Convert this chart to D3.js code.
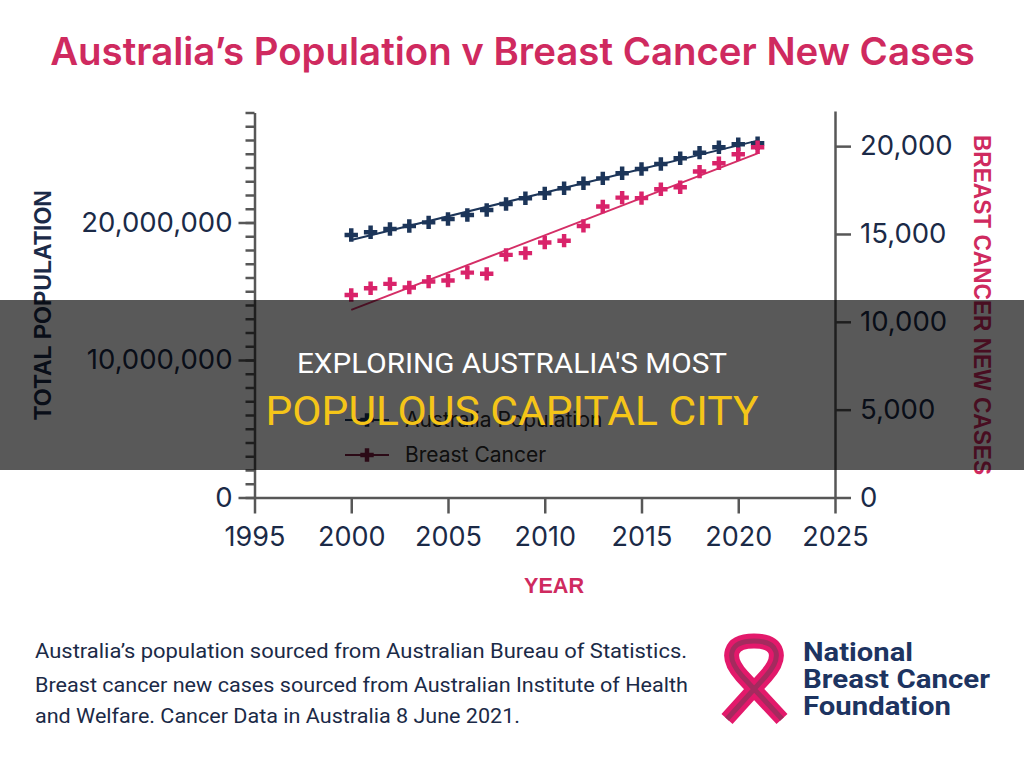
<!DOCTYPE html>
<html>
<head>
<meta charset="utf-8">
<script src="https://cdn.jsdelivr.net/npm/d3@7"></script>
<style>
  body { margin: 0; background: #fff; }
  svg { display: block; }
</style>
</head>
<body>
<div id="chart"></div>
<script>
// data
const years = [2000, 2001, 2002, 2003, 2004, 2005, 2006, 2007, 2008, 2009, 2010,
  2011, 2012, 2013, 2014, 2015, 2016, 2017, 2018, 2019, 2020, 2021];
const population = [19090000, 19290000, 19530000, 19750000, 20010000, 20250000,
  20550000, 20910000, 21350000, 21760000, 22120000, 22490000, 22850000, 23210000,
  23580000, 23890000, 24250000, 24670000, 25080000, 25470000, 25690000, 25760000];
const cancerCases = [11530, 11910, 12160, 11950, 12290, 12350, 12800, 12730, 13810,
  13910, 14510, 14620, 15460, 16560, 17070, 17040, 17550, 17660, 18550, 19030,
  19540, 19940];

const yearTicks = [1995, 2000, 2005, 2010, 2015, 2020, 2025];
const popMajorTicks = [0, 10000000, 20000000];
const popMinorTicks = d3.range(0, 28000001, 1000000);
const caseTicks = [0, 5000, 10000, 15000, 20000];

const legendItems = ['Australia Population', 'Breast Cancer'];
const footerLines = [
  'Australia\u2019s population sourced from Australian Bureau of Statistics.',
  'Breast cancer new cases sourced from Australian Institute of Health',
  'and Welfare. Cancer Data in Australia 8 June 2021.',
];
const logoLines = ['National', 'Breast Cancer', 'Foundation'];

const NAVY = '#1c3559';
const PINK = '#d9236a';
const CRIMSON = '#cf2a5f';
const AXIS = '#575757';
const LABEL = '#1b2a47';

const svg = d3.select('#chart').append('svg')
  .attr('width', 1024)
  .attr('height', 766);

svg.append('rect').attr('width', 1024).attr('height', 766).attr('fill', '#fff');

const x = d3.scaleLinear().domain([1995, 2025]).range([254.5, 835]);
const yPop = d3.scaleLinear().domain([0, 28000000]).range([497.5, 112.5]);
const yCases = d3.scaleLinear().domain([0, 22000]).range([497.5, 111]);

function styleAxis(g, fontSize) {
  g.selectAll('.domain').attr('stroke', AXIS).attr('stroke-width', 2.5);
  g.selectAll('.tick line').attr('stroke', AXIS).attr('stroke-width', 2.5);
  g.selectAll('.tick text')
    .attr('fill', LABEL)
    .attr('font-family', 'Inter, sans-serif')
    .attr('font-size', fontSize);
}

// left axis: minor ticks every million, labelled majors
const leftMinor = svg.append('g').attr('transform', 'translate(254.5,0)')
  .call(d3.axisLeft(yPop).tickValues(popMinorTicks).tickSize(9).tickSizeOuter(0).tickFormat(''));
styleAxis(leftMinor, 0);

const leftMajor = svg.append('g').attr('transform', 'translate(254.5,0)')
  .call(d3.axisLeft(yPop).tickValues(popMajorTicks).tickSize(16).tickPadding(6)
    .tickFormat(d3.format(',')));
leftMajor.select('.domain').remove();
styleAxis(leftMajor, 27.5);

const right = svg.append('g').attr('transform', 'translate(835,0)')
  .call(d3.axisRight(yCases).tickValues(caseTicks).tickSize(16).tickSizeOuter(0)
    .tickPadding(9).tickFormat(d3.format(',')));
styleAxis(right, 27.5);

const bottom = svg.append('g').attr('transform', 'translate(0,497.5)')
  .call(d3.axisBottom(x).tickValues(yearTicks).tickSize(16).tickSizeOuter(0)
    .tickPadding(13).tickFormat(d3.format('d')));
styleAxis(bottom, 27);

// axis titles
svg.append('text')
  .attr('transform', 'translate(51,305) rotate(-90)')
  .attr('text-anchor', 'middle')
  .attr('font-family', 'Liberation Sans, Arial, sans-serif')
  .attr('font-weight', 700)
  .attr('font-size', 24)
  .attr('textLength', 230)
  .attr('lengthAdjust', 'spacingAndGlyphs')
  .attr('fill', LABEL)
  .text('TOTAL POPULATION');

svg.append('text')
  .attr('transform', 'translate(974,305) rotate(90)')
  .attr('text-anchor', 'middle')
  .attr('font-family', 'Liberation Sans, Arial, sans-serif')
  .attr('font-weight', 700)
  .attr('font-size', 24)
  .attr('textLength', 340)
  .attr('lengthAdjust', 'spacingAndGlyphs')
  .attr('fill', CRIMSON)
  .text('BREAST CANCER NEW CASES');

svg.append('text')
  .attr('x', 554)
  .attr('y', 593)
  .attr('text-anchor', 'middle')
  .attr('font-family', 'Liberation Sans, Arial, sans-serif')
  .attr('font-weight', 700)
  .attr('font-size', 22)
  .attr('textLength', 60)
  .attr('lengthAdjust', 'spacingAndGlyphs')
  .attr('fill', CRIMSON)
  .text('YEAR');

// least squares trend line for each series
function trend(xs, ys) {
  const mx = d3.mean(xs);
  const my = d3.mean(ys);
  const slope = d3.sum(xs, (v, i) => (v - mx) * (ys[i] - my)) / d3.sum(xs, (v) => (v - mx) ** 2);
  const first = xs[0];
  const last = xs[xs.length - 1];
  return [[first, my + slope * (first - mx)], [last, my + slope * (last - mx)]];
}

const series = [
  { values: population, scale: yPop, color: NAVY, lineColor: NAVY },
  { values: cancerCases, scale: yCases, color: PINK, lineColor: '#d42e66' },
];

const cross = d3.symbol().type(d3.symbolCross).size(100);

series.forEach((s) => {
  const line = d3.line().x((d) => x(d[0])).y((d) => s.scale(d[1]));
  svg.append('path')
    .datum(trend(years, s.values))
    .attr('d', line)
    .attr('fill', 'none')
    .attr('stroke', s.lineColor)
    .attr('stroke-width', 2);

  svg.append('g')
    .selectAll('path')
    .data(s.values)
    .join('path')
    .attr('d', cross)
    .attr('transform', (d, i) => `translate(${x(years[i])},${s.scale(d)})`)
    .attr('fill', s.color);
});

// legend
const legendColors = [NAVY, '#7b1d3f'];
const legend = svg.append('g')
  .selectAll('g')
  .data(legendItems)
  .join('g')
  .attr('transform', (d, i) => `translate(345,${420 + i * 35})`);
legend.append('line')
  .attr('x1', 0).attr('x2', 44)
  .attr('stroke', (d, i) => legendColors[i])
  .attr('stroke-width', 2);
legend.append('path')
  .attr('d', cross)
  .attr('transform', 'translate(22,0)')
  .attr('fill', (d, i) => legendColors[i]);
legend.append('text')
  .attr('x', 60)
  .attr('dy', '0.35em')
  .attr('font-family', 'Inter, sans-serif')
  .attr('font-size', 21)
  .attr('fill', '#2b2b2b')
  .text((d) => d);

// title
const title = svg.append('text')
  .attr('x', 512.5)
  .attr('y', 65)
  .attr('text-anchor', 'middle')
  .attr('font-family', 'Inter, sans-serif')
  .attr('font-weight', 600)
  .attr('font-size', 34)
  .attr('fill', CRIMSON)
  .text('Australia\u2019s Population v Breast Cancer New Cases');
const titleWidth = title.node().getComputedTextLength();
title.attr('font-size', 34 * 925 / titleWidth);

// footer
const footerWidths = [652, 653, 485];
svg.append('g')
  .selectAll('text')
  .data(footerLines)
  .join('text')
  .attr('x', 35)
  .attr('y', (d, i) => [658, 692, 723][i])
  .attr('font-family', 'Roboto, sans-serif')
  .attr('font-size', 21)
  .attr('textLength', (d, i) => footerWidths[i])
  .attr('lengthAdjust', 'spacingAndGlyphs')
  .attr('fill', LABEL)
  .text((d) => d);

// logo ribbon
const ribbon = 'M727,719 L766,676 C783,657 779,641 754,641 C729,641 725,657 742,676 L782,719';
svg.append('path').attr('d', ribbon).attr('fill', 'none')
  .attr('stroke', '#e3196b').attr('stroke-width', 15);
svg.append('path').attr('d', ribbon).attr('fill', 'none')
  .attr('stroke', '#a42a5e').attr('stroke-width', 5);

const logoWidths = [110, 187, 148];
svg.append('g')
  .selectAll('text')
  .data(logoLines)
  .join('text')
  .attr('x', 803)
  .attr('y', (d, i) => 661 + i * 27)
  .attr('font-family', 'Roboto, sans-serif')
  .attr('font-weight', 700)
  .attr('font-size', 25)
  .attr('textLength', (d, i) => logoWidths[i])
  .attr('lengthAdjust', 'spacingAndGlyphs')
  .attr('fill', '#1d3461')
  .text((d) => d);

// page banner over the chart
svg.append('rect')
  .attr('x', 0).attr('y', 300)
  .attr('width', 1024).attr('height', 170)
  .attr('fill', 'rgba(0,0,0,0.65)');

svg.append('text')
  .attr('x', 512).attr('y', 373)
  .attr('text-anchor', 'middle')
  .attr('font-family', 'Roboto, sans-serif')
  .attr('font-size', 28)
  .attr('textLength', 430)
  .attr('lengthAdjust', 'spacingAndGlyphs')
  .attr('fill', '#ffffff')
  .text('EXPLORING AUSTRALIA\'S MOST');

svg.append('text')
  .attr('x', 512).attr('y', 425)
  .attr('text-anchor', 'middle')
  .attr('font-family', 'Roboto, sans-serif')
  .attr('font-size', 40)
  .attr('textLength', 493)
  .attr('lengthAdjust', 'spacingAndGlyphs')
  .attr('fill', '#f5c518')
  .text('POPULOUS CAPITAL CITY');
</script>
</body>
</html>
